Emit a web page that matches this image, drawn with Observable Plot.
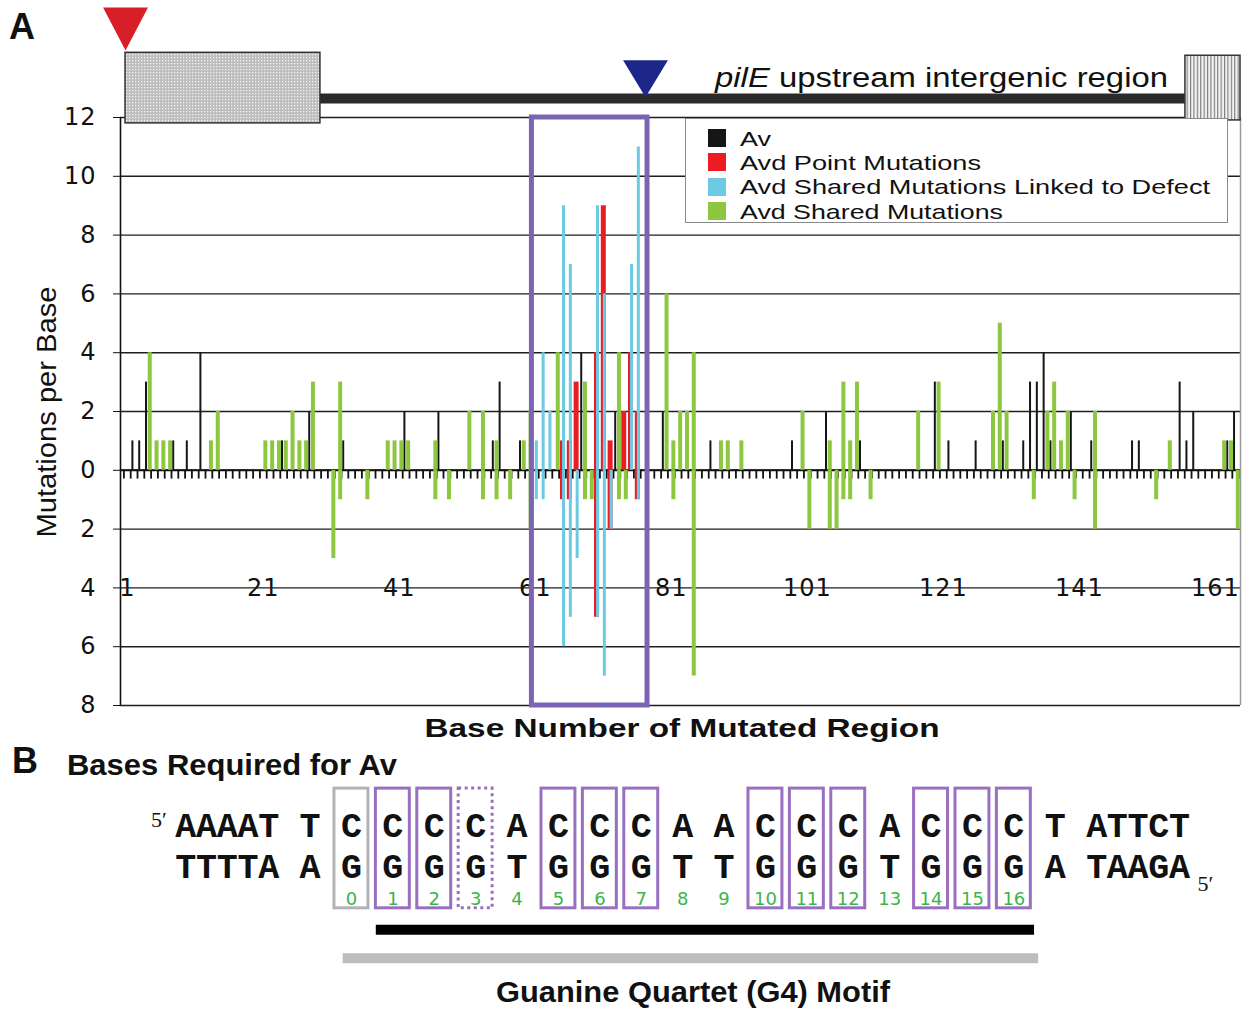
<!DOCTYPE html>
<html>
<head>
<meta charset="utf-8">
<script src="https://cdn.jsdelivr.net/npm/d3@7"></script>
<script src="https://cdn.jsdelivr.net/npm/@observablehq/plot@0.6"></script>
<style>
html,body{margin:0;padding:0;background:#fff;}
#wrap{position:relative;width:1250px;height:1013px;overflow:hidden;background:#fff;}
#wrap svg{position:absolute;left:0;}
.lbl{position:absolute;left:0;top:0;white-space:nowrap;line-height:1;color:#111;transform-origin:0 0;}
</style>
</head>
<body>
<div id="wrap"></div>
<script>
// ---------------- data (panel A) ----------------
const seriesNames = ["Av", "Avd Point Mutations", "Avd Shared Mutations Linked to Defect", "Avd Shared Mutations"];
const seriesColors = ["#161616", "#ec1c24", "#6ccae2", "#8dc63f"];

const avBases  = [2,3,4,8,10,12,24,28,33,42,47,55,56,59,68,73,80,87,99,104,109,120,122,126,130,133,134,135,136,137,140,143,149,150,156,157,158,163,164];
const avValues = [1,1,3,1,1,4,1,2,1,2,2,1,3,1,4,2,2,1,1,2,1,3,1,1,1,1,3,3,4,1,2,1,1,1,3,1,2,1,2];

const pointBases  = [65,65,66,66,67,70,70,71,72,72,74,75,76,76];
const pointValues = [1,-1,1,-1,3,4,-5,9,1,-2,2,4,2,-1];

const linkedBases  = [61,61,62,62,63,65,65,66,66,67,70,70,71,71,72,75,76,76];
const linkedValues = [1,-1,4,-1,2,9,-6,7,-5,-3,9,-5,6,-7,-2,7,11,-1];

const sharedBases  = [4,5,6,7,13,14,21,22,23,24,25,26,27,28,31,32,32,36,39,40,41,42,46,46,48,51,53,53,55,55,57,59,60,60,64,68,68,69,73,73,74,80,81,81,82,83,84,84,88,89,91,100,101,104,104,105,106,106,107,107,108,110,117,120,128,129,130,134,136,137,138,139,140,143,143,152,154,162,163,164];
const sharedValues = [4,1,1,1,1,2,1,1,1,1,2,1,1,3,-3,3,-1,-1,1,1,1,1,1,-1,-1,2,2,-1,1,-1,-1,1,2,-2,4,3,-1,-1,4,-1,-1,6,1,-1,2,2,4,-7,1,1,1,2,-2,1,-2,-2,3,-1,1,-1,3,-1,2,3,2,5,2,-1,2,3,1,2,-1,2,-2,-1,1,1,1,-2];

const yTicks = [-8,-6,-4,-2,0,2,4,6,8,10,12];
const xTickLabels = [1,21,41,61,81,101,121,141,161];
const baseCount = 164;
const g4Region = {start: 61, end: 77};

// gene map drawn above the chart (base units on x, axis units on y)
const mapBoxes = [
  {name: "upstream gene", start: 0.74, end: 29.4, top: 14.2, bottom: 11.8},
  {name: "pilE", start: 156.6, end: 164.7, top: 14.1, bottom: 11.9}
];
const mapLine = [{start: 29.4, end: 156.6, level: 12.65}];
const mapMarkers = [
  {name: "red", base: 0.74, tip: 14.28, height: 1.46, halfWidth: 3.3, color: "#d81e26"},
  {name: "blue", base: 77.2, tip: 12.69, height: 1.26, halfWidth: 3.3, color: "#1d2789"}
];

// ---------------- data (panel B) ----------------
const leftFlankTop = "AAAAT T ", leftFlankBottom = "TTTTA A ";
const coreTop    = ["C","C","C","C","A","C","C","C","A","A","C","C","C","A","C","C","C"];
const coreBottom = ["G","G","G","G","T","G","G","G","T","T","G","G","G","T","G","G","G"];
const rightFlankTop = " T ATTCT", rightFlankBottom = " A TAAGA";
const corePositions = [0,1,2,3,4,5,6,7,8,9,10,11,12,13,14,15,16];
const requiredPositions = [1,2,5,6,7,10,11,12,14,15,16];
const partialPositions = [3];
const controlPositions = [0];
const motifSpans = [{name: "required", from: 1, to: 16}, {name: "G4", from: 0, to: 16}];

// ---------------- helpers ----------------
const wrap = document.getElementById("wrap");
function addLabel(o) {
  const el = document.createElement("div");
  el.className = "lbl";
  el.style.fontFamily = o.family || "'Liberation Sans', Arial, sans-serif";
  el.style.fontSize = o.size + "px";
  el.style.fontWeight = o.weight || "normal";
  if (o.color) el.style.color = o.color;
  if (o.html) el.innerHTML = o.html; else el.textContent = o.text;
  wrap.appendChild(el);
  const nat = el.getBoundingClientRect().width;
  const s = o.width ? o.width / nat : 1;
  const ax = o.anchor === "middle" ? -50 : 0;
  el.style.transform = `translate(${o.x}px, ${o.y}px) rotate(${o.rotate || 0}deg) scaleX(${s}) translate(${ax}%, -50%)`;
  return el;
}

// ---------------- panel A ----------------
const offsets = [-0.25, 0, 0.15, 0.3];
const widths = [2, 5, 3, 4];
const rows = (i, b, v) => b.map((base, j) => ({series: seriesNames[i], base, value: v[j]}));
const seriesData = [rows(0, avBases, avValues), rows(1, pointBases, pointValues), rows(2, linkedBases, linkedValues), rows(3, sharedBases, sharedValues)];
const zeroTicks = d3.range(0, baseCount + 1).map(b => b + 0.5);
const tri = m => [
  {x: m.base - m.halfWidth, y: m.tip + m.height},
  {x: m.base + m.halfWidth, y: m.tip + m.height},
  {x: m.base, y: m.tip}
];

const svgA = Plot.plot({
  width: 1250, height: 745,
  marginLeft: 120, marginRight: 10, marginTop: 117, marginBottom: 40,
  x: {domain: [0, 164.7], axis: null},
  y: {domain: [-8, 12], axis: null},
  style: {fontFamily: "'DejaVu Sans', sans-serif", background: "transparent", letterSpacing: "1px", color: "#111"},
  marks: [
    Plot.text(xTickLabels, {x: d => d, y: -4, text: d => String(d), fontSize: 24, fill: "#111"}),
    Plot.ruleY(yTicks, {stroke: "#1e1e1e", strokeWidth: 1.4}),
    Plot.ruleY([0], {stroke: "#111", strokeWidth: 2}),
    Plot.ruleX(zeroTicks, {y1: 0, y2: -0.3, stroke: "#111", strokeWidth: 1.8}),
    Plot.ruleX([0], {y1: -8, y2: 12, stroke: "#111", strokeWidth: 1.6}),
    Plot.ruleX([164.7], {y1: -8, y2: 12, stroke: "#9a9a9a", strokeWidth: 1.5}),
    Plot.axisY(yTicks, {tickFormat: d => Math.abs(d), tickSize: 7, tickPadding: 17, fontSize: 24, label: null, stroke: "#111"}),
    ...seriesData.map((r, i) => Plot.ruleX(r, {x: d => d.base + offsets[i], y1: 0, y2: "value", stroke: seriesColors[i], strokeWidth: widths[i]})),
    Plot.rect([g4Region], {x1: d => d.start - 0.5, x2: d => d.end + 0.5, y1: -8, y2: 12, stroke: "#7b64b4", strokeWidth: 5, fill: "none"}),
    // gene map
    Plot.ruleY(mapLine, {y: "level", x1: "start", x2: "end", stroke: "#2b2b2b", strokeWidth: 10}),
    Plot.rect([mapBoxes[0]], {x1: "start", x2: "end", y1: "bottom", y2: "top", fill: "#c8c8c7", stroke: "#333", strokeWidth: 1.5}),
    Plot.rect([mapBoxes[1]], {x1: "start", x2: "end", y1: "bottom", y2: "top", fill: "#efefee", stroke: "#333", strokeWidth: 1.5}),
    ...mapMarkers.map(m => Plot.line(tri(m), {x: "x", y: "y", fill: m.color, stroke: "none"}))
  ]
});
svgA.style.top = "0px";
wrap.appendChild(svgA);

// patterns for the gene boxes
const defs = d3.select(svgA).insert("defs", ":first-child");
const p1 = defs.append("pattern").attr("id", "dots").attr("width", 3).attr("height", 3).attr("patternUnits", "userSpaceOnUse");
p1.append("rect").attr("width", 3).attr("height", 3).attr("fill", "#bdbdbd");
p1.append("rect").attr("width", 1.3).attr("height", 1.3).attr("fill", "#f4f4f4");
const p2 = defs.append("pattern").attr("id", "stripes").attr("width", 3.4).attr("height", 4).attr("patternUnits", "userSpaceOnUse");
p2.append("rect").attr("width", 3.4).attr("height", 4).attr("fill", "#f2f2f2");
p2.append("rect").attr("width", 1.1).attr("height", 4).attr("fill", "#7a7a7a");
d3.select(svgA).selectAll('g[fill="#c8c8c7"]').attr("fill", "url(#dots)");
d3.select(svgA).selectAll('g[fill="#efefee"]').attr("fill", "url(#stripes)");

// legend
const leg = document.createElement("div");
Object.assign(leg.style, {position: "absolute", left: "685px", top: "118px", width: "541px", height: "103px", border: "1.5px solid #8a8a8a", background: "#fff"});
wrap.appendChild(leg);
const legTargets = [31, 241, 470, 263];
seriesNames.forEach((name, i) => {
  const cy = 138 + i * 24.4;
  const sw = document.createElement("div");
  Object.assign(sw.style, {position: "absolute", left: "708px", top: (cy - 9) + "px", width: "18px", height: "18px", background: seriesColors[i]});
  wrap.appendChild(sw);
  addLabel({text: name, x: 740, y: cy, size: 21, width: legTargets[i]});
});

// panel A texts
addLabel({text: "A", x: 9, y: 26.5, size: 37, weight: "bold", width: 26});
addLabel({html: "<i>pilE</i> upstream intergenic region", x: 715, y: 78, size: 27, width: 453});
addLabel({text: "Mutations per Base", x: 47, y: 412, size: 27, width: 251, rotate: -90, anchor: "middle"});
addLabel({text: "Base Number of Mutated Region", x: 682, y: 727.5, size: 26, weight: "bold", width: 515, anchor: "middle"});

// ---------------- panel B ----------------
const topStrand = leftFlankTop + coreTop.join(" ") + rightFlankTop;
const bottomStrand = leftFlankBottom + coreBottom.join(" ") + rightFlankBottom;
const chars = s => Array.from(s).map((c, i) => ({c, i})).filter(d => d.c !== " ");
const colIdx = k => leftFlankTop.length + 2 * k;
const boxOpts = {x1: k => colIdx(k) - 0.82, x2: k => colIdx(k) + 0.82, y1: -0.9, y2: 2.02, fill: "none", strokeWidth: 3};
const seqFont = {fontFamily: "'Liberation Mono', 'Courier New', monospace", fontWeight: "bold", fontSize: 35, fill: "#111"};

const svgB = Plot.plot({
  width: 1250, height: 268, margin: 0,
  x: {domain: [-0.5, 48.5], range: [175, 175 + 49 * 20.7], axis: null},
  y: {domain: [0, 1], range: [80, 121], axis: null},
  style: {background: "transparent", overflow: "visible"},
  marks: [
    Plot.rect(controlPositions, {...boxOpts, stroke: "#b3b3b3"}),
    Plot.rect(requiredPositions, {...boxOpts, stroke: "#9a6fc2"}),
    Plot.rect(partialPositions, {...boxOpts, stroke: "#9a6fc2", strokeDasharray: "3,3.5"}),
    Plot.text(chars(topStrand), {x: "i", y: 0, text: "c", ...seqFont}),
    Plot.text(chars(bottomStrand), {x: "i", y: 1, text: "c", ...seqFont}),
    Plot.text(["5′"], {x: -1.3, y: -0.14, text: d => d, fontFamily: "'Liberation Serif', serif", fontSize: 22, fill: "#111"}),
    Plot.text(["5′"], {x: 49.25, y: 1.42, text: d => d, fontFamily: "'Liberation Serif', serif", fontSize: 22, fill: "#111"}),
    Plot.text(corePositions, {x: colIdx, y: 1.8, text: d => String(d), fontFamily: "'DejaVu Sans', sans-serif", fontSize: 18, fill: "#3cb44a"}),
    Plot.ruleY([motifSpans[0]], {y: 2.54, x1: d => colIdx(d.from) - 0.8, x2: d => colIdx(d.to) + 1.0, stroke: "#000", strokeWidth: 10}),
    Plot.ruleY([motifSpans[1]], {y: 3.24, x1: d => colIdx(d.from) - 0.4, x2: d => colIdx(d.to) + 1.2, stroke: "#bdbdbd", strokeWidth: 10})
  ]
});
svgB.style.top = "745px";
wrap.appendChild(svgB);

addLabel({text: "B", x: 12, y: 760.5, size: 37, weight: "bold", width: 26});
addLabel({text: "Bases Required for Av", x: 67, y: 765.5, size: 29, weight: "bold", width: 330});
addLabel({text: "Guanine Quartet (G4) Motif", x: 693, y: 992.5, size: 29, weight: "bold", width: 394, anchor: "middle"});
</script>
</body>
</html>
